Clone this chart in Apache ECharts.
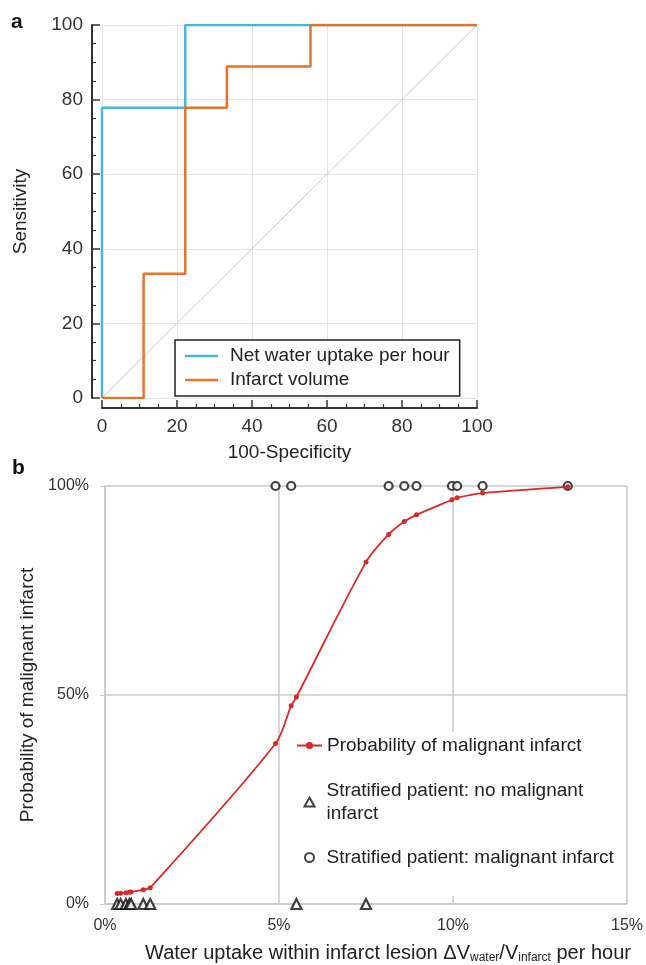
<!DOCTYPE html>
<html>
<head>
<meta charset="utf-8">
<script src="https://cdn.jsdelivr.net/npm/echarts@6/dist/echarts.min.js"></script>
<style>
html,body{margin:0;padding:0;background:#fff;}
#chart{width:646px;height:965px;}
</style>
</head>
<body>
<div id="chart"></div>
<script>
// ---------- Panel a: ROC curves ----------
const rocTicks = [0, 20, 40, 60, 80, 100];
const netWaterFPR = [0, 0, 22.2, 22.2, 100];
const netWaterTPR = [0, 77.8, 77.8, 100, 100];
const infarctVolFPR = [0, 11.1, 11.1, 22.2, 22.2, 33.3, 33.3, 55.6, 55.6, 100];
const infarctVolTPR = [0, 0, 33.3, 33.3, 77.8, 77.8, 88.9, 88.9, 100, 100];
const diagonalX = [0, 100];
const diagonalY = [0, 100];

// ---------- Panel b: probability of malignant infarct ----------
const xTicksB = [0, 5, 10, 15];
const yTicksB = [0, 50, 100];
const probX = [0.35, 0.45, 0.6, 0.7, 0.75, 1.1, 1.3, 4.9, 5.35, 5.5, 7.5, 8.15, 8.6, 8.95, 9.97, 10.12, 10.85, 13.3];
const probY = [2.5, 2.6, 2.7, 2.8, 2.9, 3.4, 3.9, 38.4, 47.4, 49.5, 81.8, 88.4, 91.5, 93.1, 96.7, 97.2, 98.3, 99.8];
const noMalignantX = [0.35, 0.45, 0.6, 0.7, 0.75, 1.1, 1.3, 5.5, 7.5];
const noMalignantY = [0, 0, 0, 0, 0, 0, 0, 0, 0];
const malignantX = [4.9, 5.35, 8.15, 8.6, 8.95, 9.97, 10.12, 10.85, 13.3];
const malignantY = [100, 100, 100, 100, 100, 100, 100, 100, 100];

const zip = (a, b) => a.map((v, i) => [v, b[i]]);
const FONT = "'Liberation Sans', Arial, sans-serif";
const BLUE = '#4db6d6';
const ORANGE = '#e5732d';
const RED = '#d42a2a';

const chart = echarts.init(document.getElementById('chart'), null, {renderer: 'canvas'});

const option = {
  animation: false,
  textStyle: {fontFamily: FONT},
  grid: [
    {left: 102, top: 25, width: 375, height: 373},
    {left: 105, top: 486, width: 522, height: 422}
  ],
  xAxis: [
    {
      gridIndex: 0, type: 'value', min: rocTicks[0], max: rocTicks[rocTicks.length - 1], interval: 20,
      offset: 10,
      name: '100-Specificity', nameLocation: 'middle', nameGap: 35,
      nameTextStyle: {fontSize: 19, color: '#222', fontFamily: FONT},
      axisLine: {show: true, onZero: false, lineStyle: {color: '#333', width: 2}},
      axisTick: {show: true, inside: true, length: 8, lineStyle: {color: '#333', width: 1.5}},
      minorTick: {show: true, splitNumber: 4, length: 4, lineStyle: {color: '#333', width: 1.2}},
      axisLabel: {fontSize: 19, color: '#333', margin: 9, fontFamily: FONT},
      splitLine: {show: true, lineStyle: {color: '#e4e4e4', width: 1}}
    },
    {
      gridIndex: 1, type: 'value', min: xTicksB[0], max: xTicksB[xTicksB.length - 1], interval: 5,
      name: 'Water uptake within infarct lesion ΔV{sub|water}/V{sub|infarct} per hour',
      nameLocation: 'middle', nameGap: 38,
      nameTextStyle: {
        fontSize: 20, color: '#222', fontFamily: FONT, padding: [0, 0, 0, 44], lineHeight: 22,
        rich: {sub: {fontSize: 12, color: '#222', fontFamily: FONT, lineHeight: 14, verticalAlign: 'bottom'}}
      },
      axisLine: {show: true, onZero: false, lineStyle: {color: '#c8c8c8', width: 1.5}},
      axisTick: {show: false},
      axisLabel: {fontSize: 16, color: '#333', margin: 14, fontFamily: FONT, formatter: v => v + '%'},
      splitLine: {show: true, lineStyle: {color: '#c8c8c8', width: 1.5}}
    }
  ],
  yAxis: [
    {
      gridIndex: 0, type: 'value', min: rocTicks[0], max: rocTicks[rocTicks.length - 1], interval: 20,
      offset: 10,
      name: 'Sensitivity', nameLocation: 'middle', nameGap: 62,
      nameTextStyle: {fontSize: 19, color: '#222', fontFamily: FONT},
      axisLine: {show: true, onZero: false, lineStyle: {color: '#333', width: 2}},
      axisTick: {show: true, inside: true, length: 8, lineStyle: {color: '#333', width: 1.5}},
      minorTick: {show: true, splitNumber: 4, length: 4, lineStyle: {color: '#333', width: 1.2}},
      axisLabel: {fontSize: 19, color: '#333', margin: 9, fontFamily: FONT},
      splitLine: {show: true, lineStyle: {color: '#e4e4e4', width: 1}}
    },
    {
      gridIndex: 1, type: 'value', min: yTicksB[0], max: yTicksB[yTicksB.length - 1], interval: 50,
      name: 'Probability of malignant infarct', nameLocation: 'middle', nameGap: 60,
      nameTextStyle: {fontSize: 19, color: '#222', fontFamily: FONT},
      axisLine: {show: true, onZero: false, lineStyle: {color: '#c8c8c8', width: 1.5}},
      axisTick: {show: true, length: 5, lineStyle: {color: '#c8c8c8', width: 1}},
      axisLabel: {fontSize: 16, color: '#333', margin: 16, fontFamily: FONT, formatter: v => v + '%'},
      splitLine: {show: true, lineStyle: {color: '#c8c8c8', width: 1.5}}
    }
  ],
  legend: [
    {
      data: [
        {name: 'Net water uptake per hour', icon: 'rect'},
        {name: 'Infarct volume', icon: 'rect'}
      ],
      orient: 'vertical', left: 175, top: 340,
      padding: [6, 10, 6, 10], itemGap: 4, itemWidth: 33, itemHeight: 2.5,
      borderColor: '#222', borderWidth: 1.5, backgroundColor: '#fff',
      textStyle: {fontSize: 19, color: '#222', fontFamily: FONT, padding: [0, 0, 0, 7], lineHeight: 20}
    },
    {
      data: [{name: 'Probability of malignant infarct'}],
      orient: 'vertical', left: 291, top: 732,
      padding: [2, 5, 12, 5], itemWidth: 25, itemHeight: 9,
      backgroundColor: '#fff',
      textStyle: {fontSize: 19, color: '#222', fontFamily: FONT, lineHeight: 23}
    },
    {
      data: [
        {name: 'Stratified patient: no malignant\ninfarct', textStyle: {padding: [23, 0, 0, 7]}},
        {name: 'Stratified patient: malignant infarct'}
      ],
      orient: 'vertical', left: 298.5, top: 765.5,
      padding: [2, 5, 27, 5], itemGap: 9.5, itemWidth: 10, itemHeight: 9,
      backgroundColor: '#fff',
      textStyle: {fontSize: 19, color: '#222', fontFamily: FONT, lineHeight: 23, padding: [0, 0, 0, 7]}
    }
  ],
  graphic: [
    {type: 'text', left: 11, top: 12, style: {text: 'a', fontSize: 21, fontWeight: 'bold', fill: '#111', fontFamily: FONT}},
    {type: 'text', left: 12, top: 458, style: {text: 'b', fontSize: 21, fontWeight: 'bold', fill: '#111', fontFamily: FONT}}
  ],
  series: [
    {
      type: 'line', xAxisIndex: 0, yAxisIndex: 0, data: zip(diagonalX, diagonalY),
      symbol: 'none', silent: true, lineStyle: {color: '#c8c8c8', width: 1}, z: 1
    },
    {
      name: 'Net water uptake per hour', type: 'line', xAxisIndex: 0, yAxisIndex: 0,
      data: zip(netWaterFPR, netWaterTPR), symbol: 'none',
      lineStyle: {color: BLUE, width: 2.5}, itemStyle: {color: BLUE}, z: 3
    },
    {
      name: 'Infarct volume', type: 'line', xAxisIndex: 0, yAxisIndex: 0,
      data: zip(infarctVolFPR, infarctVolTPR), symbol: 'none',
      lineStyle: {color: ORANGE, width: 2.5}, itemStyle: {color: ORANGE}, z: 4
    },
    {
      name: 'Stratified patient: no malignant\ninfarct', type: 'scatter', xAxisIndex: 1, yAxisIndex: 1,
      data: zip(noMalignantX, noMalignantY), symbol: 'triangle', symbolSize: 10,
      itemStyle: {color: '#fff', borderColor: '#111', borderWidth: 2.2}, z: 3
    },
    {
      name: 'Stratified patient: malignant infarct', type: 'scatter', xAxisIndex: 1, yAxisIndex: 1,
      data: zip(malignantX, malignantY), symbol: 'circle', symbolSize: 8,
      itemStyle: {color: '#fff', borderColor: '#111', borderWidth: 2.2}, z: 3
    },
    {
      name: 'Probability of malignant infarct', type: 'line', xAxisIndex: 1, yAxisIndex: 1,
      data: zip(probX, probY), smooth: 0.3, symbol: 'circle', symbolSize: 5, showSymbol: true,
      lineStyle: {color: RED, width: 1.8}, itemStyle: {color: RED}, z: 5
    }
  ]
};
chart.setOption(option);
</script>
</body>
</html>
